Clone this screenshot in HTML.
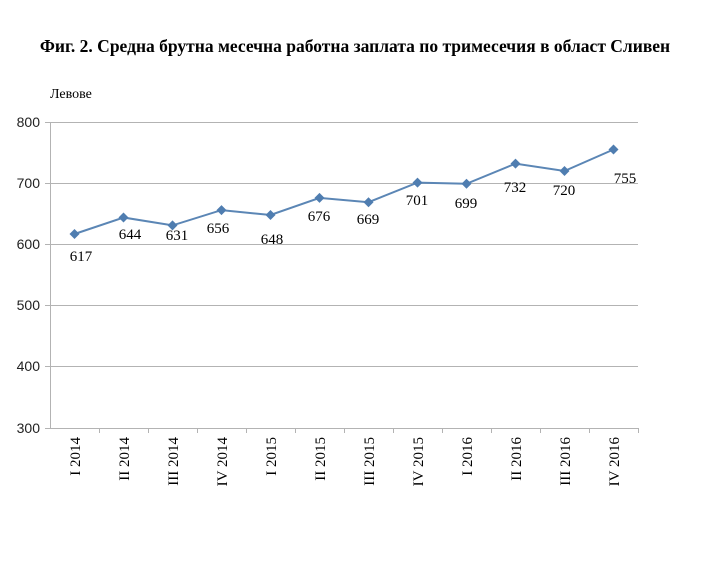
<!DOCTYPE html>
<html><head><meta charset="utf-8"><style>body{margin:0;background:#fff}</style></head><body>
<svg width="701" height="560" xmlns="http://www.w3.org/2000/svg">
<text x="355" y="52" text-anchor="middle" font-family="Liberation Serif, serif" font-weight="bold" font-size="17.5">Фиг. 2. Средна брутна месечна работна заплата по тримесечия в област Сливен</text>
<text x="50" y="98" font-family="Liberation Serif, serif" font-size="14">Левове</text>
<g stroke="#b3b3b3" stroke-width="1">
<line x1="45" y1="122.5" x2="638" y2="122.5"/><line x1="45" y1="183.5" x2="638" y2="183.5"/><line x1="45" y1="244.5" x2="638" y2="244.5"/><line x1="45" y1="305.5" x2="638" y2="305.5"/><line x1="45" y1="366.5" x2="638" y2="366.5"/><line x1="45" y1="428.5" x2="638" y2="428.5"/>
<line x1="50.5" y1="122" x2="50.5" y2="428"/>
<line x1="99.5" y1="428" x2="99.5" y2="433"/><line x1="148.5" y1="428" x2="148.5" y2="433"/><line x1="197.5" y1="428" x2="197.5" y2="433"/><line x1="246.5" y1="428" x2="246.5" y2="433"/><line x1="295.5" y1="428" x2="295.5" y2="433"/><line x1="344.5" y1="428" x2="344.5" y2="433"/><line x1="393.5" y1="428" x2="393.5" y2="433"/><line x1="442.5" y1="428" x2="442.5" y2="433"/><line x1="491.5" y1="428" x2="491.5" y2="433"/><line x1="540.5" y1="428" x2="540.5" y2="433"/><line x1="589.5" y1="428" x2="589.5" y2="433"/><line x1="638.5" y1="428" x2="638.5" y2="433"/>
</g>
<g font-family="Liberation Sans, sans-serif" font-size="14" text-anchor="end" fill="#222">
<text x="40" y="127">800</text><text x="40" y="188">700</text><text x="40" y="249">600</text><text x="40" y="310">500</text><text x="40" y="371">400</text><text x="40" y="433">300</text>
</g>
<g font-family="Liberation Serif, serif" font-size="15" text-anchor="end">
<text transform="translate(80,437) rotate(-90)">I 2014</text>
<text transform="translate(129,437) rotate(-90)">II 2014</text>
<text transform="translate(178,437) rotate(-90)">III 2014</text>
<text transform="translate(227,437) rotate(-90)">IV 2014</text>
<text transform="translate(276,437) rotate(-90)">I 2015</text>
<text transform="translate(325,437) rotate(-90)">II 2015</text>
<text transform="translate(374,437) rotate(-90)">III 2015</text>
<text transform="translate(423,437) rotate(-90)">IV 2015</text>
<text transform="translate(472,437) rotate(-90)">I 2016</text>
<text transform="translate(521,437) rotate(-90)">II 2016</text>
<text transform="translate(570,437) rotate(-90)">III 2016</text>
<text transform="translate(619,437) rotate(-90)">IV 2016</text>
</g>
<g font-family="Liberation Serif, serif" font-size="15" text-anchor="middle">
<text x="81" y="261">617</text><text x="130" y="239">644</text><text x="177" y="240">631</text><text x="218" y="233">656</text>
<text x="272" y="244">648</text><text x="319" y="221">676</text><text x="368" y="224">669</text><text x="417" y="205">701</text>
<text x="466" y="208">699</text><text x="515" y="192">732</text><text x="564" y="195">720</text><text x="625" y="183">755</text>
</g>
<polyline points="74.5,234 123.5,217.5 172.5,225.4 221.5,210.1 270.5,215 319.5,197.9 368.5,202.2 417.5,182.6 466.5,183.8 515.5,163.6 564.5,171 613.5,149.5" fill="none" stroke="#5b86b5" stroke-width="2"/>
<g fill="#4f7db0">
<polygon points="74.5,229 79.5,234 74.5,239 69.5,234"/>
<polygon points="123.5,212.5 128.5,217.5 123.5,222.5 118.5,217.5"/>
<polygon points="172.5,220.4 177.5,225.4 172.5,230.4 167.5,225.4"/>
<polygon points="221.5,205.1 226.5,210.1 221.5,215.1 216.5,210.1"/>
<polygon points="270.5,210 275.5,215 270.5,220 265.5,215"/>
<polygon points="319.5,192.9 324.5,197.9 319.5,202.9 314.5,197.9"/>
<polygon points="368.5,197.2 373.5,202.2 368.5,207.2 363.5,202.2"/>
<polygon points="417.5,177.6 422.5,182.6 417.5,187.6 412.5,182.6"/>
<polygon points="466.5,178.8 471.5,183.8 466.5,188.8 461.5,183.8"/>
<polygon points="515.5,158.6 520.5,163.6 515.5,168.6 510.5,163.6"/>
<polygon points="564.5,166 569.5,171 564.5,176 559.5,171"/>
<polygon points="613.5,144.5 618.5,149.5 613.5,154.5 608.5,149.5"/>
</g>
</svg>
</body></html>
